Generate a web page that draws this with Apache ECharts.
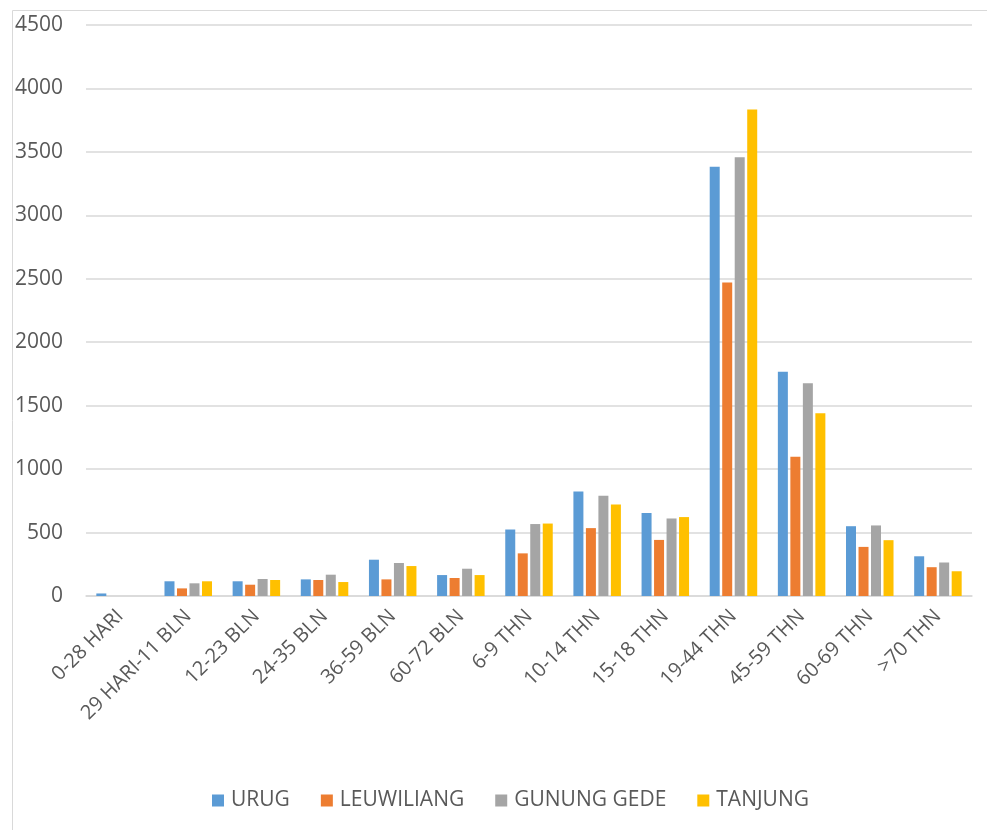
<!DOCTYPE html>
<html>
<head>
<meta charset="utf-8">
<script src="https://cdn.jsdelivr.net/npm/echarts@6/dist/echarts.min.js"></script>
<style>html,body{margin:0;padding:0;background:#fff}#c{width:987px;height:830px}</style>
</head>
<body>
<div id="c"></div>
<script>
const categories = ["0-28 HARI","29 HARI-11 BLN","12-23 BLN","24-35 BLN","36-59 BLN","60-72 BLN","6-9 THN","10-14 THN","15-18 THN","19-44 THN","45-59 THN","60-69 THN",">70 THN"];
const seriesNames = ["URUG","LEUWILIANG","GUNUNG GEDE","TANJUNG"];
const urug       = [20, 116, 116, 131, 286, 165, 524, 823, 654, 3382, 1768, 550, 313];
const leuwiliang = [0, 60, 89, 126, 131, 142, 336, 535, 442, 2471, 1097, 387, 227];
const gunungGede = [0, 100, 134, 168, 260, 215, 567, 791, 611, 3458, 1677, 556, 264];
const tanjung    = [0, 116, 126, 110, 236, 165, 571, 722, 622, 3834, 1440, 440, 195];
const yTicks = {min: 0, max: 4500, interval: 500};
const colors = ["#5B9BD5","#ED7D31","#A5A5A5","#FFC000"];

const values = [urug, leuwiliang, gunungGede, tanjung];
const chart = echarts.init(document.getElementById('c'), null, {renderer: 'canvas'});
const font = '"Open Sans", "Liberation Sans", sans-serif';
chart.setOption({
  animation: false,
  color: colors,
  graphic: [{
    type: 'rect', left: 10, top: 8, silent: true,
    shape: {width: 975, height: 820},
    style: {fill: 'none', stroke: '#D9D9D9', lineWidth: 1}
  }],
  grid: {left: 86, right: 15, top: 25, bottom: 234, containLabel: false},
  legend: {
    data: seriesNames,
    left: 207, top: 785,
    itemWidth: 12, itemHeight: 12, itemGap: 31,
    icon: 'rect',
    textStyle: {fontFamily: font, fontSize: 21, color: '#595959', padding: [0,0,0,2]}
  },
  xAxis: {
    type: 'category',
    data: categories,
    axisLine: {show: true, lineStyle: {color: '#D9D9D9', width: 1.5}},
    axisTick: {show: false},
    axisLabel: {rotate: 45, fontFamily: font, fontSize: 20, color: '#595959', margin: 17, interval: 0}
  },
  yAxis: {
    type: 'value',
    min: yTicks.min, max: yTicks.max, interval: yTicks.interval,
    axisLine: {show: false},
    axisTick: {show: false},
    splitLine: {lineStyle: {color: '#D9D9D9', width: 1.5}},
    axisLabel: {fontFamily: font, fontSize: 21, color: '#595959', margin: 23, formatter: v => String(v)}
  },
  series: seriesNames.map((n, i) => ({
    name: n,
    type: 'bar',
    data: values[i],
    barWidth: 10,
    barGap: '25%',
    itemStyle: {color: colors[i]}
  }))
});
</script>
</body>
</html>
